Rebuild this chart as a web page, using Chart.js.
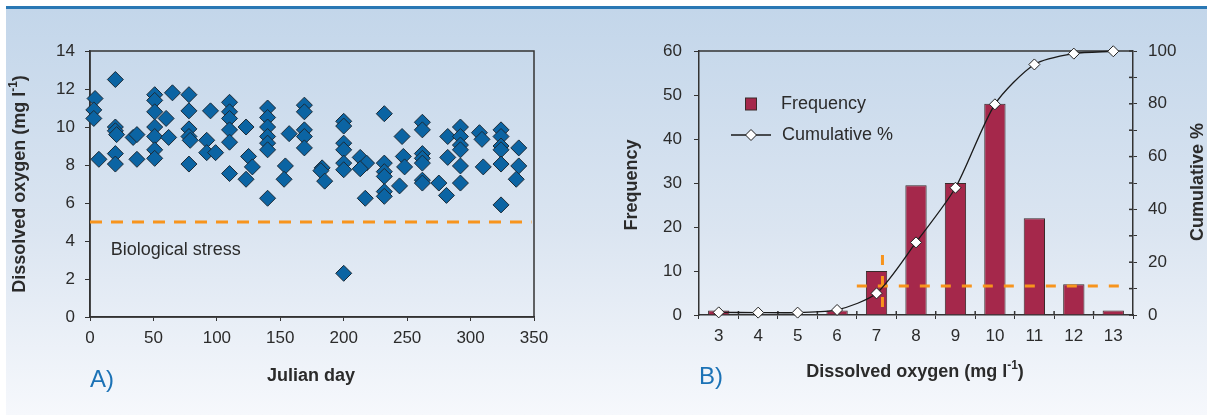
<!DOCTYPE html>
<html>
<head>
<meta charset="utf-8">
<script src="https://cdn.jsdelivr.net/npm/chart.js@4.4.0/dist/chart.umd.min.js"></script>
<style>
html, body { margin: 0; padding: 0; background: #fff; }
#wrap { position: relative; width: 1207px; height: 417px; overflow: hidden; }
#panel {
    position: absolute; left: 6px; top: 6px; right: 0; bottom: 2px;
    border-top: 3px solid #2a78b4;
    background: linear-gradient(#c3d6ea, #dbe5f1 55%, #f6f8fc);
}
canvas { position: absolute; top: 0; }
#chartA { left: 0; }
#chartB { left: 600px; }
</style>
</head>
<body>
<div id="wrap">
    <div id="panel"></div>
    <canvas id="chartA" width="600" height="417"></canvas>
    <canvas id="chartB" width="607" height="417"></canvas>
</div>
<script>
// A) растворённый кислород по юлианским дням
const julianDay = [4, 3, 3, 7,
    20, 20, 20, 21, 20, 20,
    34, 37, 37,
    51, 51, 51, 51, 51, 51, 51,
    60, 62, 65,
    78, 78, 78, 78, 79, 78,
    92, 92, 99, 95,
    110, 110, 110, 110, 110, 110,
    123, 125, 128, 123,
    140, 140, 140, 140, 140, 140, 140,
    157, 154, 153,
    169, 169, 169, 169, 169,
    183, 182, 185,
    200, 200, 200, 200, 200, 200, 200,
    213, 218, 213, 217,
    232, 232, 232, 232, 232, 232,
    244, 246, 247, 248,
    262, 262, 262, 262, 262, 262, 262,
    275, 282, 282, 281,
    292, 292, 292, 292, 292, 292,
    307, 309, 310,
    324, 324, 324, 324, 324, 324,
    338, 338, 336];
const dissolvedO2 = [11.5, 10.9, 10.45, 8.3,
    12.5, 10.0, 9.8, 9.6, 8.6, 8.05,
    9.45, 9.6, 8.3,
    11.7, 11.4, 10.8, 10.0, 9.5, 8.8, 8.35,
    10.45, 9.45, 11.8,
    11.7, 10.85, 9.9, 9.5, 9.3, 8.05,
    9.3, 8.65, 8.65, 10.85,
    11.3, 10.8, 10.45, 9.85, 9.2, 7.55,
    10.0, 8.45, 7.9, 7.25,
    11.0, 10.5, 10.0, 9.5, 9.15, 8.8, 6.25,
    9.65, 7.95, 7.25,
    11.15, 10.8, 9.85, 9.5, 8.9,
    7.85, 7.7, 7.15,
    10.3, 10.05, 9.15, 8.8, 8.1, 7.75, 2.3,
    8.4, 8.1, 7.8, 6.25,
    10.7, 8.1, 7.65, 7.4, 6.6, 6.35,
    6.9, 9.5, 8.45, 7.9,
    10.25, 9.85, 8.6, 8.35, 8.1, 7.2, 7.05,
    7.05, 9.5, 8.4, 6.4,
    10.0, 9.5, 9.05, 8.8, 7.95, 7.05,
    9.7, 9.35, 7.9,
    9.85, 9.5, 9.0, 8.8, 8.05, 5.9,
    8.9, 7.95, 7.25];
const stressLevel = 5;
const stressDays = [0, 348];
const dayTicks = [0, 350, 50];
const doTicks = [0, 14, 2];

// B) распределение частот
const doClasses = ['3', '4', '5', '6', '7', '8', '9', '10', '11', '12', '13'];
const frequency = [1, 0, 0, 1, 10, 29.5, 30, 48, 22, 7, 1];
const cumulativePct = [1.0, 0.9, 0.9, 1.9, 8.2, 27.5, 48.2, 79.8, 94.9, 99.0, 99.9];
const refLevelX = [6.5, 13.3];
const refLevelPct = 11;
const refDoX = 7.15;
const refDoPct = [3, 23];

const FONT = "'Liberation Sans', Arial, Helvetica, sans-serif";
const INK = '#2b2b2b';
const AXIS = '#333';
const ORANGE = '#f7941d';

// текст с верхним индексом, по центру (x, y)
function drawTitle(ctx, parts, x, y, rot) {
    ctx.save();
    ctx.translate(x, y);
    ctx.rotate(rot || 0);
    ctx.textBaseline = 'middle';
    ctx.textAlign = 'left';
    let total = 0;
    parts.forEach(p => {
        ctx.font = (p.sup ? 'bold 12px ' : 'bold 18px ') + FONT;
        p.w = ctx.measureText(p.t).width;
        total += p.w;
    });
    let cx = -total / 2;
    ctx.fillStyle = INK;
    parts.forEach(p => {
        ctx.font = (p.sup ? 'bold 12px ' : 'bold 18px ') + FONT;
        ctx.fillText(p.t, cx, p.sup ? -6 : 0);
        cx += p.w;
    });
    ctx.restore();
}

const doTitle = [{t: 'Dissolved oxygen (mg l'}, {t: '-1', sup: true}, {t: ')'}];

function line(ctx, x1, y1, x2, y2) {
    ctx.beginPath();
    ctx.moveTo(x1, y1);
    ctx.lineTo(x2, y2);
    ctx.stroke();
}

function fixScale(size) {
    return function (s) {
        if (s.isHorizontal()) s.height = size; else s.width = size;
        s.paddingLeft = s.paddingRight = s.paddingTop = s.paddingBottom = 0;
    };
}

const tickFont = {family: FONT, size: 17};

const decorA = {
    id: 'decorA',
    beforeDatasetsDraw(chart) {
        const {ctx, chartArea: a} = chart;
        ctx.save();
        ctx.strokeStyle = AXIS;
        ctx.lineWidth = 1.5;
        ctx.strokeRect(a.left, a.top, a.right - a.left, a.bottom - a.top);
        ctx.restore();
    },
    afterDraw(chart) {
        const {ctx, scales: {x, y}} = chart;
        ctx.save();
        ctx.fillStyle = INK;
        ctx.font = '18px ' + FONT;
        ctx.textBaseline = 'middle';
        ctx.fillText('Biological stress', x.getPixelForValue(16.3), y.getPixelForValue(3.5));
        ctx.fillStyle = '#1b72b6';
        ctx.font = '24px ' + FONT;
        ctx.fillText('A)', 90, 380);
        ctx.restore();
        drawTitle(ctx, doTitle, 20, 184, -Math.PI / 2);
        drawTitle(ctx, [{t: 'Julian day'}], 311, 376, 0);
    }
};

const chartA = new Chart(document.getElementById('chartA'), {
    type: 'scatter',
    data: {
        datasets: [
            {
                data: julianDay.map((d, i) => ({x: d, y: dissolvedO2[i]})),
                pointStyle: 'rectRot',
                pointRadius: 8,
                pointBackgroundColor: '#0b64a3',
                pointBorderColor: '#1c2a36',
                pointBorderWidth: 1,
                clip: false,
                order: 1
            },
            {
                type: 'line',
                data: stressDays.map(d => ({x: d, y: stressLevel})),
                borderColor: ORANGE,
                borderWidth: 3,
                borderDash: [12, 9],
                pointRadius: 0,
                order: 2
            }
        ]
    },
    options: {
        responsive: false,
        animation: false,
        events: [],
        layout: {padding: {top: 51, right: 66, left: 0, bottom: 0}},
        plugins: {legend: {display: false}, tooltip: {enabled: false}},
        scales: {
            x: {
                type: 'linear',
                min: dayTicks[0], max: dayTicks[1],
                ticks: {stepSize: dayTicks[2], color: INK, font: tickFont, padding: 7, maxRotation: 0},
                grid: {drawOnChartArea: false, tickLength: 4, color: AXIS},
                border: {color: AXIS, width: 1.5},
                afterFit: fixScale(100)
            },
            y: {
                min: doTicks[0], max: doTicks[1],
                ticks: {stepSize: doTicks[2], color: INK, font: tickFont, padding: 10},
                grid: {drawOnChartArea: false, tickLength: 5, color: AXIS},
                border: {color: AXIS, width: 1.5},
                afterFit: fixScale(90)
            }
        }
    },
    plugins: [decorA]
});

const decorB = {
    id: 'decorB',
    beforeDatasetsDraw(chart) {
        const {ctx, chartArea: a, scales: {x, y1}} = chart;
        ctx.save();
        ctx.strokeStyle = AXIS;
        ctx.lineWidth = 1.5;
        line(ctx, a.left, a.top, a.right, a.top);
        // засечки внутрь области
        const n = x.ticks.length;
        const step = (a.right - a.left) / n;
        for (let i = 1; i < n; i++) {
            line(ctx, a.left + i * step, a.bottom - 4, a.left + i * step, a.bottom);
        }
        y1.ticks.forEach(t => {
            const py = y1.getPixelForValue(t.value);
            line(ctx, a.right - 4, py, a.right, py);
        });
        ctx.restore();
    },
    afterDraw(chart) {
        const {ctx, chartArea: a} = chart;
        ctx.save();
        // легенда
        const lx = a.left + 52;
        ctx.fillStyle = '#a5284b';
        ctx.strokeStyle = '#3a2a2a';
        ctx.lineWidth = 1;
        ctx.fillRect(lx - 5.5, 98, 11, 12);
        ctx.strokeRect(lx - 5.5, 98, 11, 12);
        ctx.fillStyle = INK;
        ctx.font = '18px ' + FONT;
        ctx.textBaseline = 'middle';
        ctx.fillText('Frequency', lx + 30, 104);
        ctx.strokeStyle = '#1a1a1a';
        ctx.lineWidth = 1.3;
        line(ctx, lx - 20, 135, lx + 20, 135);
        ctx.beginPath();
        ctx.moveTo(lx, 129.5); ctx.lineTo(lx + 5.5, 135); ctx.lineTo(lx, 140.5); ctx.lineTo(lx - 5.5, 135);
        ctx.closePath();
        ctx.fillStyle = '#fff';
        ctx.fill();
        ctx.lineWidth = 1;
        ctx.stroke();
        ctx.fillStyle = INK;
        ctx.fillText('Cumulative %', lx + 31, 135);
        ctx.fillStyle = '#1b72b6';
        ctx.font = '24px ' + FONT;
        ctx.fillText('B)', 99, 377);
        ctx.restore();
        drawTitle(ctx, [{t: 'Frequency'}], 32, 185, -Math.PI / 2);
        drawTitle(ctx, [{t: 'Cumulative %'}], 598, 182, -Math.PI / 2);
        drawTitle(ctx, doTitle, 315, 372, 0);
    }
};

const chartB = new Chart(document.getElementById('chartB'), {
    type: 'bar',
    data: {
        labels: doClasses,
        datasets: [
            {
                type: 'line',
                data: cumulativePct,
                yAxisID: 'y1',
                borderColor: '#1a1a1a',
                borderWidth: 1.3,
                tension: 0.25,
                pointStyle: 'rectRot',
                pointRadius: 5.5,
                pointBackgroundColor: '#fff',
                pointBorderColor: '#222',
                pointBorderWidth: 1,
                clip: false,
                order: 0
            },
            {
                type: 'line',
                data: refLevelX.map(v => ({x: v, y: refLevelPct})),
                xAxisID: 'x2',
                yAxisID: 'y1',
                borderColor: ORANGE,
                borderWidth: 3,
                borderDash: [10, 11],
                pointRadius: 0,
                order: 1
            },
            {
                type: 'line',
                data: refDoPct.map(v => ({x: refDoX, y: v})),
                xAxisID: 'x2',
                yAxisID: 'y1',
                borderColor: ORANGE,
                borderWidth: 3,
                borderDash: [10, 11],
                pointRadius: 0,
                order: 1
            },
            {
                data: frequency,
                yAxisID: 'y',
                backgroundColor: '#a5284b',
                borderColor: '#3a2a2a',
                borderWidth: 1,
                grouped: false,
                barPercentage: 0.54,
                categoryPercentage: 1,
                order: 2
            }
        ]
    },
    options: {
        responsive: false,
        animation: false,
        events: [],
        layout: {padding: {top: 51, right: 0, left: 0, bottom: 0}},
        plugins: {legend: {display: false}, tooltip: {enabled: false}},
        scales: {
            x: {
                type: 'category',
                offset: true,
                ticks: {color: INK, font: tickFont, padding: 7, maxRotation: 0},
                grid: {offset: true, drawOnChartArea: false, tickLength: 4, color: AXIS},
                border: {color: AXIS, width: 1.5},
                afterFit: fixScale(102)
            },
            x2: {
                type: 'linear',
                display: false,
                offset: false,
                grid: {offset: false},
                min: 2.5, max: 13.5
            },
            y: {
                position: 'left',
                min: 0, max: 60,
                ticks: {stepSize: 10, color: INK, font: tickFont, padding: 12},
                grid: {drawOnChartArea: false, tickLength: 5, color: AXIS},
                border: {color: AXIS, width: 1.5},
                afterFit: fixScale(99)
            },
            y1: {
                position: 'right',
                min: 0, max: 100,
                ticks: {stepSize: 10, color: INK, font: tickFont, padding: 11,
                    callback: v => (v % 20 === 0 ? v : '')},
                grid: {drawOnChartArea: false, tickLength: 4, color: AXIS},
                border: {color: AXIS, width: 1.5},
                afterFit: fixScale(74)
            }
        }
    },
    plugins: [decorB]
});
</script>
</body>
</html>
